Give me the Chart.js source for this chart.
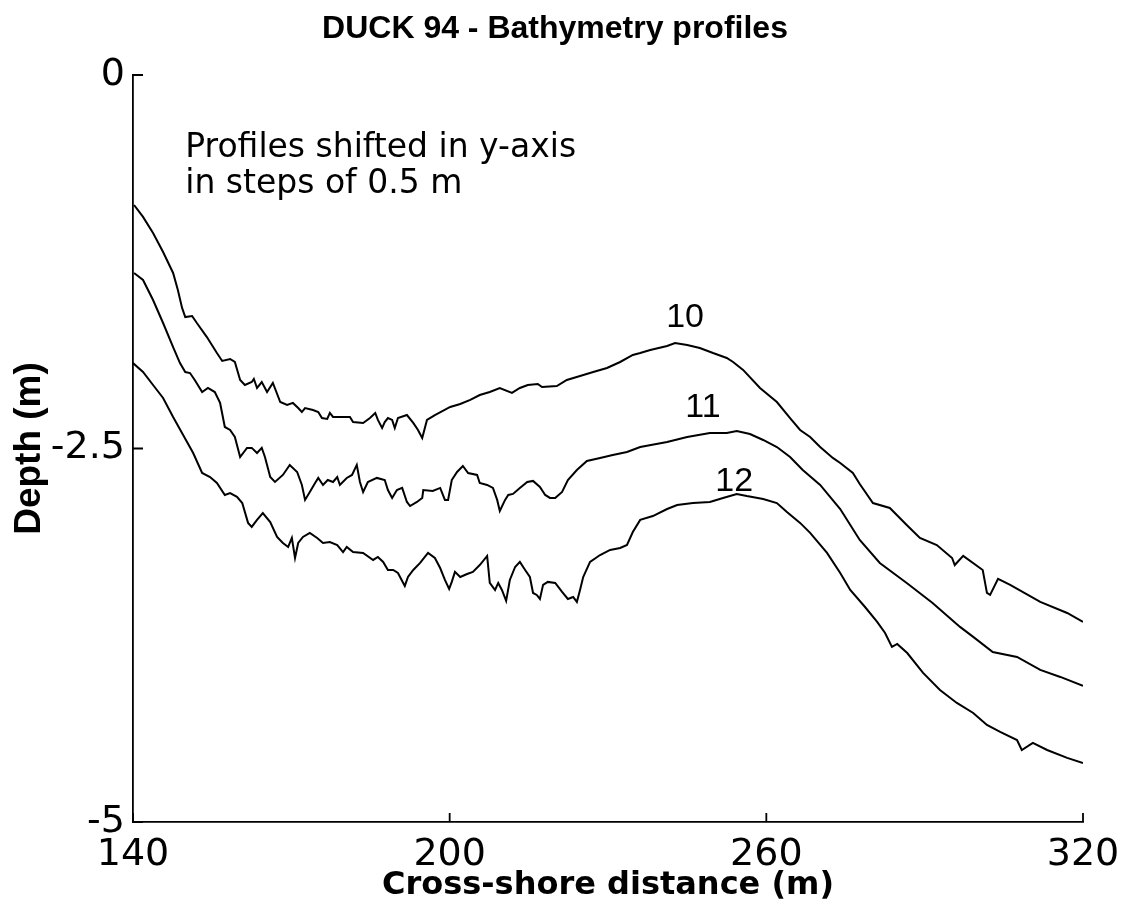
<!DOCTYPE html>
<html>
<head>
<meta charset="utf-8">
<script src="https://cdn.jsdelivr.net/npm/chart.js@4/dist/chart.umd.min.js"></script>
<style>
  html, body { margin: 0; padding: 0; background: #fff; overflow: hidden; }
  #wrap { width: 1124px; height: 918px; position: relative; }
</style>
</head>
<body>
<div id="wrap"><canvas id="c"></canvas></div>
<script>
// ---- data (cross-shore distance m, depth m) ----
const profile10 = [[140.2,-0.870],[141.9,-0.950],[143.8,-1.058],[145.7,-1.185],[147.6,-1.325],[148.5,-1.439],[149.3,-1.559],[149.9,-1.620],[151.2,-1.613],[152.1,-1.660],[154.0,-1.754],[155.9,-1.861],[156.9,-1.914],[158.4,-1.901],[159.3,-1.921],[160.3,-2.041],[161.2,-2.075],[162.5,-2.055],[162.9,-2.035],[163.5,-2.095],[164.4,-2.055],[165.4,-2.122],[166.5,-2.061],[167.9,-2.189],[169.2,-2.209],[170.3,-2.195],[171.3,-2.229],[172.0,-2.256],[172.6,-2.229],[174.1,-2.242],[175.1,-2.256],[175.8,-2.296],[176.8,-2.302],[177.3,-2.262],[177.9,-2.289],[179.8,-2.289],[181.1,-2.289],[181.7,-2.323],[183.6,-2.329],[184.9,-2.296],[185.9,-2.262],[186.4,-2.309],[187.2,-2.363],[187.7,-2.323],[188.3,-2.296],[189.1,-2.309],[189.6,-2.363],[190.2,-2.296],[191.9,-2.276],[193.1,-2.329],[194.0,-2.376],[194.8,-2.430],[195.7,-2.309],[197.2,-2.276],[200.1,-2.222],[202.0,-2.202],[203.9,-2.175],[205.7,-2.142],[207.6,-2.122],[209.5,-2.095],[211.8,-2.128],[213.3,-2.095],[214.8,-2.075],[216.7,-2.068],[217.5,-2.088],[220.3,-2.082],[222.2,-2.041],[224.7,-2.015],[227.2,-1.988],[229.8,-1.961],[232.3,-1.921],[234.7,-1.874],[236.1,-1.861],[238.0,-1.841],[241.2,-1.814],[242.7,-1.794],[245.0,-1.807],[247.4,-1.827],[249.9,-1.861],[252.5,-1.894],[253.7,-1.921],[255.6,-1.974],[258.8,-2.095],[262.0,-2.189],[264.5,-2.296],[266.4,-2.376],[268.3,-2.423],[270.2,-2.490],[272.6,-2.563],[274.0,-2.597],[276.4,-2.664],[277.7,-2.738],[280.2,-2.865],[283.4,-2.898],[286.6,-3.012],[289.1,-3.099],[292.3,-3.146],[295.2,-3.233],[295.7,-3.280],[297.3,-3.219],[301.0,-3.313],[301.8,-3.467],[302.4,-3.480],[303.9,-3.373],[306.2,-3.413],[311.9,-3.527],[317.0,-3.601],[320.0,-3.661]];

const profile11 = [[140.2,-1.325],[141.9,-1.372],[143.8,-1.506],[145.7,-1.660],[147.6,-1.821],[148.9,-1.928],[149.9,-1.988],[150.8,-1.995],[151.7,-2.041],[153.1,-2.122],[154.2,-2.095],[155.5,-2.122],[156.5,-2.195],[157.4,-2.356],[158.4,-2.376],[159.3,-2.423],[160.3,-2.557],[161.6,-2.496],[162.5,-2.496],[163.5,-2.530],[164.4,-2.496],[165.0,-2.557],[166.0,-2.691],[166.9,-2.724],[168.4,-2.677],[169.7,-2.610],[171.1,-2.657],[172.0,-2.744],[172.6,-2.844],[173.5,-2.791],[174.5,-2.731],[175.1,-2.697],[176.0,-2.744],[176.9,-2.711],[177.9,-2.724],[178.7,-2.691],[179.2,-2.744],[180.5,-2.697],[181.5,-2.677],[182.4,-2.610],[183.0,-2.724],[183.6,-2.791],[184.5,-2.724],[186.2,-2.697],[187.7,-2.711],[188.3,-2.778],[189.1,-2.831],[190.0,-2.778],[191.0,-2.764],[191.9,-2.858],[192.5,-2.885],[193.8,-2.858],[194.8,-2.831],[195.0,-2.778],[196.8,-2.784],[198.2,-2.764],[199.1,-2.844],[199.7,-2.844],[200.4,-2.711],[201.4,-2.657],[202.5,-2.617],[203.5,-2.664],[205.2,-2.677],[205.7,-2.731],[207.1,-2.744],[208.2,-2.764],[209.0,-2.844],[209.5,-2.918],[210.5,-2.844],[211.1,-2.811],[212.0,-2.804],[213.3,-2.764],[214.7,-2.724],[215.8,-2.717],[217.1,-2.757],[218.1,-2.811],[219.0,-2.831],[220.0,-2.831],[221.3,-2.791],[222.4,-2.711],[224.1,-2.644],[226.0,-2.583],[228.5,-2.563],[230.9,-2.543],[233.6,-2.523],[236.1,-2.490],[241.2,-2.456],[245.0,-2.423],[249.3,-2.396],[252.5,-2.396],[254.4,-2.383],[256.9,-2.403],[259.4,-2.443],[262.0,-2.490],[264.5,-2.557],[266.9,-2.644],[270.2,-2.744],[274.0,-2.905],[277.7,-3.112],[281.5,-3.266],[286.6,-3.400],[291.5,-3.534],[296.7,-3.694],[299.2,-3.761],[302.9,-3.862],[307.5,-3.895],[311.9,-3.982],[315.7,-4.029],[320.0,-4.089]];

const profile12 = [[140.0,-1.928],[141.9,-1.988],[143.8,-2.075],[145.7,-2.162],[147.6,-2.289],[149.5,-2.409],[151.4,-2.530],[153.1,-2.664],[154.6,-2.691],[155.9,-2.731],[157.4,-2.811],[158.4,-2.798],[159.7,-2.824],[160.7,-2.865],[161.8,-2.998],[162.5,-3.025],[163.5,-2.978],[164.6,-2.932],[166.0,-2.992],[167.3,-3.092],[168.4,-3.132],[169.4,-3.159],[170.1,-3.099],[170.7,-3.233],[171.3,-3.132],[172.2,-3.092],[173.5,-3.065],[174.9,-3.099],[176.0,-3.132],[177.3,-3.126],[178.7,-3.146],[179.8,-3.193],[180.5,-3.159],[181.7,-3.193],[183.6,-3.199],[185.5,-3.246],[186.4,-3.226],[187.4,-3.259],[188.3,-3.313],[189.3,-3.313],[190.2,-3.333],[191.5,-3.420],[192.1,-3.360],[193.1,-3.313],[194.4,-3.266],[195.9,-3.199],[197.2,-3.233],[198.2,-3.300],[199.1,-3.380],[199.9,-3.440],[200.4,-3.393],[201.0,-3.326],[202.0,-3.360],[203.3,-3.340],[204.4,-3.326],[205.7,-3.280],[207.1,-3.219],[207.6,-3.400],[208.6,-3.447],[209.2,-3.400],[209.9,-3.447],[210.7,-3.520],[211.4,-3.380],[212.4,-3.293],[213.3,-3.259],[214.3,-3.313],[215.2,-3.360],[215.8,-3.467],[216.5,-3.480],[217.1,-3.507],[217.7,-3.413],[218.6,-3.393],[220.0,-3.400],[221.3,-3.460],[222.4,-3.507],[223.4,-3.494],[224.1,-3.527],[224.7,-3.447],[225.3,-3.360],[226.6,-3.259],[228.5,-3.213],[230.4,-3.179],[232.3,-3.166],[233.6,-3.146],[234.7,-3.059],[236.1,-2.978],[238.5,-2.952],[241.2,-2.905],[243.1,-2.878],[246.1,-2.865],[249.3,-2.858],[251.8,-2.831],[254.4,-2.804],[256.3,-2.818],[259.4,-2.838],[262.0,-2.865],[263.9,-2.925],[266.4,-2.998],[268.3,-3.065],[271.5,-3.199],[274.0,-3.333],[275.9,-3.447],[278.7,-3.561],[281.0,-3.661],[282.5,-3.735],[283.8,-3.828],[284.8,-3.808],[286.7,-3.869],[289.7,-4.002],[292.9,-4.116],[296.1,-4.203],[299.2,-4.270],[301.8,-4.350],[304.3,-4.397],[307.5,-4.451],[308.4,-4.518],[310.5,-4.471],[313.2,-4.518],[317.0,-4.571],[320.0,-4.605]];

const xTicks = [140, 200, 260, 320];
const yTicks = [-5, -2.5, 0];
const profileNames = ['10', '11', '12'];
// label anchors (data units)
const labelX = [244.6, 248.0, 253.9];
const labelY = [-1.687, -2.289, -2.784];
const noteLines = ['Profiles shifted in y-axis', 'in steps of 0.5 m'];
const noteX = 149.9;
const noteY = [-0.551, -0.790];

const toXY = arr => arr.map(p => ({x: p[0], y: p[1]}));

const inwardTicks = {
  id: 'inwardTicks',
  afterDraw(chart) {
    const {ctx, chartArea: a, scales: {x, y}} = chart;
    ctx.save();
    ctx.strokeStyle = '#000';
    ctx.lineWidth = 1.8;
    ctx.beginPath();
    y.ticks.forEach(t => {
      const py = y.getPixelForValue(t.value);
      ctx.moveTo(a.left, py); ctx.lineTo(a.left + 10, py);
    });
    x.ticks.forEach(t => {
      const px = x.getPixelForValue(t.value);
      ctx.moveTo(px, a.bottom); ctx.lineTo(px, a.bottom - 9);
    });
    ctx.stroke();
    ctx.restore();
  }
};

const textLabels = {
  id: 'textLabels',
  afterDatasetsDraw(chart) {
    const {ctx, scales: {x, y}} = chart;
    ctx.save();
    ctx.fillStyle = '#000';
    ctx.textBaseline = 'alphabetic';
    ctx.textAlign = 'left';
    ctx.font = '33px "DejaVu Sans"';
    noteLines.forEach((t, i) => {
      ctx.fillText(t, x.getPixelForValue(noteX), y.getPixelForValue(noteY[i]));
    });
    ctx.textAlign = 'center';
    ctx.font = '34px "Liberation Sans"';
    profileNames.forEach((t, i) => {
      ctx.fillText(t, x.getPixelForValue(labelX[i]), y.getPixelForValue(labelY[i]));
    });
    ctx.restore();
  }
};

const mkSet = (name, arr) => ({
  label: name,
  data: toXY(arr),
  borderColor: '#000',
  borderWidth: 2,
  pointRadius: 0,
  fill: false,
  tension: 0
});

new Chart(document.getElementById('c'), {
  type: 'line',
  data: {
    datasets: [
      mkSet(profileNames[0], profile10),
      mkSet(profileNames[1], profile11),
      mkSet(profileNames[2], profile12)
    ]
  },
  options: {
    responsive: true,
    maintainAspectRatio: false,
    animation: false,
    events: [],
    layout: {padding: {left: 27, right: 41, top: 0, bottom: 0}},
    plugins: {
      legend: {display: false},
      tooltip: {enabled: false},
      title: {
        display: true,
        text: 'DUCK 94 - Bathymetry profiles',
        color: '#000',
        font: {family: '"Liberation Sans", Arial, sans-serif', size: 32, weight: 'bold', lineHeight: 1.2},
        padding: {top: 9.5, bottom: 27.1}
      }
    },
    scales: {
      x: {
        type: 'linear',
        min: 140, max: 320,
        afterBuildTicks: s => { s.ticks = xTicks.map(v => ({value: v})); },
        afterFit: s => { s.height = 96; s.paddingLeft = 0; s.paddingRight = 0; },
        grid: {display: false, drawTicks: false},
        border: {display: true, color: '#000', width: 1.8},
        ticks: {
          color: '#000', padding: 10, maxRotation: 0, autoSkip: false,
          font: {family: '"DejaVu Sans"', size: 38, lineHeight: 1.2},
          callback: v => String(v)
        },
        title: {
          display: true, text: 'Cross-shore distance (m)', color: '#000',
          font: {family: '"DejaVu Sans"', size: 32, weight: 'bold', lineHeight: 1.2},
          padding: {top: 0, bottom: 12.8}
        }
      },
      y: {
        type: 'linear',
        min: -5, max: 0,
        afterBuildTicks: s => { s.ticks = yTicks.map(v => ({value: v})); },
        afterFit: s => { s.width = 106; s.paddingTop = 0; s.paddingBottom = 0; },
        grid: {display: false, drawTicks: false},
        border: {display: true, color: '#000', width: 1.8},
        ticks: {
          color: '#000', padding: 8, autoSkip: false,
          font: {family: '"DejaVu Sans"', size: 38, lineHeight: 1.2},
          callback: v => String(v)
        },
        title: {
          display: true, text: 'Depth (m)', color: '#000',
          font: {family: '"Liberation Sans", Arial, sans-serif', size: 37, weight: 'bold', lineHeight: 1.2},
          padding: {top: -19.2, bottom: 0}
        }
      }
    }
  },
  plugins: [inwardTicks, textLabels]
});
</script>
</body>
</html>
